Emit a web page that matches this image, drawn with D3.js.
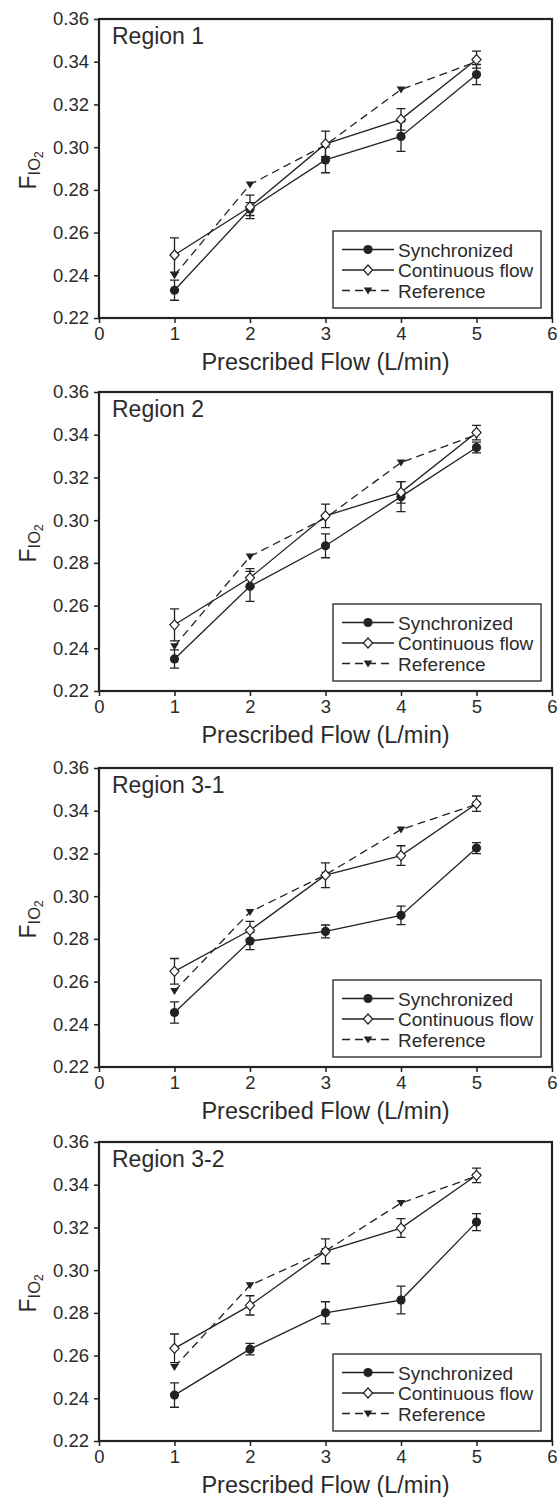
<!DOCTYPE html>
<html>
<head>
<meta charset="utf-8">
<script src="https://cdn.jsdelivr.net/npm/d3@7"></script>
<style>
  body { margin: 0; background: #fff; }
  svg { display: block; font-family: "Liberation Sans", Arial, sans-serif; }
</style>
</head>
<body>
<script>
// data
var flows = [1, 2, 3, 4, 5];
var regions = ["Region 1", "Region 2", "Region 3-1", "Region 3-2"];
var yTicks = [0.22, 0.24, 0.26, 0.28, 0.30, 0.32, 0.34, 0.36];
var xTicks = [0, 1, 2, 3, 4, 5, 6];
var legendLabels = ["Synchronized", "Continuous flow", "Reference"];

var syncMean = [
    [0.233, 0.271, 0.294, 0.305, 0.334],
    [0.235, 0.269, 0.288, 0.311, 0.334],
    [0.2455, 0.279, 0.2835, 0.291, 0.3225],
    [0.2415, 0.263, 0.280, 0.286, 0.3225]
];
var syncErr = [
    [0.0047, 0.003, 0.006, 0.007, 0.0047],
    [0.0043, 0.007, 0.0056, 0.007, 0.0025],
    [0.005, 0.004, 0.003, 0.0043, 0.0026],
    [0.0057, 0.0027, 0.0052, 0.0065, 0.004]
];
var contMean = [
    [0.2495, 0.272, 0.3015, 0.313, 0.341],
    [0.251, 0.273, 0.302, 0.313, 0.341],
    [0.2648, 0.284, 0.3098, 0.319, 0.3433],
    [0.2634, 0.2835, 0.3088, 0.3197, 0.3444]
];
var contErr = [
    [0.008, 0.0055, 0.006, 0.005, 0.004],
    [0.0075, 0.0043, 0.0055, 0.005, 0.0034],
    [0.006, 0.0042, 0.0058, 0.0046, 0.0036],
    [0.0067, 0.0045, 0.0058, 0.0044, 0.0034]
];
var refMean = [
    [0.240, 0.2825, 0.301, 0.327, 0.340],
    [0.241, 0.283, 0.301, 0.327, 0.340],
    [0.2556, 0.2926, 0.310, 0.3312, 0.343],
    [0.2547, 0.2929, 0.309, 0.3314, 0.344]
];

var W = 558, H = 1497;
var left = 99, right = 552, plotH = 299;
var panelTops = [19, 392, 768, 1142];
var ink = "#222", textInk = "#2b2b2b";

var svg = d3.select("body").append("svg")
    .attr("width", W).attr("height", H);

var x = d3.scaleLinear().domain([0, 6]).range([left, right]);

// draw one marker of the given kind at (0,0)
function marker(g, kind) {
    if (kind === "sync") {
        g.append("circle").attr("r", 4.6).attr("fill", ink);
    } else if (kind === "cont") {
        g.append("path").attr("d", "M0,-5L4.6,0L0,5L-4.6,0Z")
            .attr("fill", "#fff").attr("stroke", ink).attr("stroke-width", 1.2);
    } else {
        g.append("path").attr("d", "M-4.3,-3L4.3,-3L0,4Z").attr("fill", ink);
    }
}

regions.forEach(function(name, p) {
    var top = panelTops[p], bottom = top + plotH;
    var y = d3.scaleLinear().domain([0.22, 0.36]).range([bottom, top]);
    var g = svg.append("g");

    // axes
    var ya = g.append("g").attr("transform", "translate(" + left + ",0)")
        .call(d3.axisLeft(y).tickValues(yTicks).tickSize(5).tickPadding(5).tickFormat(d3.format(".2f")));
    var xa = g.append("g").attr("transform", "translate(0," + bottom + ")")
        .call(d3.axisBottom(x).tickValues(xTicks).tickSize(5).tickPadding(4).tickFormat(d3.format("d")));
    [ya, xa].forEach(function(a) {
        a.select(".domain").remove();
        a.selectAll(".tick line").attr("stroke", ink).attr("stroke-width", 1.5);
        a.selectAll(".tick text").attr("fill", textInk).style("font-size", "18.5px");
    });

    // frame
    g.append("rect").attr("x", left).attr("y", top)
        .attr("width", right - left).attr("height", plotH)
        .attr("fill", "none").attr("stroke", ink).attr("stroke-width", 2.2);

    // region title
    g.append("text").attr("x", left + 13).attr("y", top + 25)
        .attr("fill", textInk).style("font-size", "23px").text(name);

    // axis titles
    g.append("text").attr("x", (left + right) / 2).attr("y", bottom + 52)
        .attr("text-anchor", "middle").attr("fill", textInk).style("font-size", "23.5px")
        .text("Prescribed Flow (L/min)");

    var yt = g.append("text")
        .attr("transform", "translate(36," + (top + plotH / 2 + 21) + ") rotate(-90)")
        .attr("fill", textInk).style("font-size", "23px");
    yt.append("tspan").text("F");
    yt.append("tspan").attr("dy", 4).style("font-size", "16.5px").text("IO");
    yt.append("tspan").attr("dy", 3).style("font-size", "12px").text("2");

    var line = d3.line().x(function(d) { return x(d[0]); }).y(function(d) { return y(d[1]); });
    var series = [
        { kind: "ref", mean: refMean[p], err: null, dash: "8,5" },
        { kind: "sync", mean: syncMean[p], err: syncErr[p], dash: null },
        { kind: "cont", mean: contMean[p], err: contErr[p], dash: null }
    ];

    // error bars
    series.forEach(function(s) {
        if (!s.err) return;
        flows.forEach(function(f, i) {
            var lo = y(s.mean[i] - s.err[i]), hi = y(s.mean[i] + s.err[i]), cx = x(f);
            g.append("path")
                .attr("d", "M" + (cx - 4.5) + "," + hi + "H" + (cx + 4.5) + "M" + cx + "," + hi + "V" + lo +
                    "M" + (cx - 4.5) + "," + lo + "H" + (cx + 4.5))
                .attr("fill", "none").attr("stroke", ink).attr("stroke-width", 1.3);
        });
    });

    // lines
    series.forEach(function(s) {
        g.append("path").datum(flows.map(function(f, i) { return [f, s.mean[i]]; }))
            .attr("d", line).attr("fill", "none").attr("stroke", ink)
            .attr("stroke-width", 1.3).attr("stroke-dasharray", s.dash);
    });

    // markers
    series.forEach(function(s) {
        flows.forEach(function(f, i) {
            marker(g.append("g").attr("transform", "translate(" + x(f) + "," + y(s.mean[i]) + ")"), s.kind);
        });
    });

    // legend
    var lx = left + 234, ly = top + 212;
    var lg = g.append("g").attr("transform", "translate(" + lx + "," + ly + ")");
    lg.append("rect").attr("width", right - 11 - lx).attr("height", 77)
        .attr("fill", "#fff").attr("stroke", ink).attr("stroke-width", 1.3);
    ["sync", "cont", "ref"].forEach(function(k, i) {
        var ry = 18.5 + i * 20.5;
        lg.append("line").attr("x1", 9).attr("x2", 61).attr("y1", ry).attr("y2", ry)
            .attr("stroke", ink).attr("stroke-width", 1.3)
            .attr("stroke-dasharray", k === "ref" ? "8,5" : null);
        marker(lg.append("g").attr("transform", "translate(35," + ry + ")"), k);
        lg.append("text").attr("x", 65).attr("y", ry + 7)
            .attr("fill", textInk).style("font-size", "19px").text(legendLabels[i]);
    });
});
</script>
</body>
</html>
